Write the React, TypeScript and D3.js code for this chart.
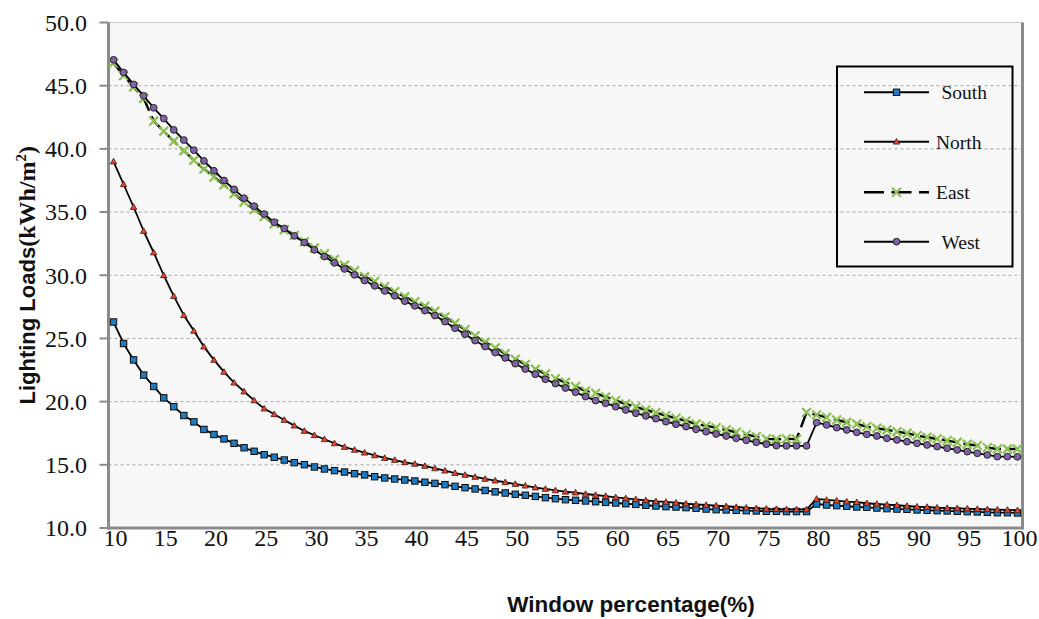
import React from "react";
import * as d3 from "d3";

const categories: number[] = d3.range(10, 101);
const xTickLabels: number[] = [10, 15, 20, 25, 30, 35, 40, 45, 50, 55, 60, 65, 70, 75, 80, 85, 90, 95, 100];
const yTicks: number[] = [10, 15, 20, 25, 30, 35, 40, 45, 50];

const south: number[] = [
  26.3, 24.6, 23.3, 22.1, 21.2, 20.3, 19.6, 18.9, 18.4, 17.8,
  17.4, 17.05, 16.7, 16.35, 16.07, 15.8, 15.6, 15.38, 15.17, 15.01,
  14.83, 14.67, 14.54, 14.43, 14.3, 14.2, 14.06, 13.96, 13.88, 13.8,
  13.72, 13.62, 13.53, 13.43, 13.3, 13.19, 13.09, 12.97, 12.86, 12.77,
  12.67, 12.59, 12.5, 12.4, 12.32, 12.24, 12.19, 12.14, 12.08, 12.03,
  11.98, 11.92, 11.87, 11.8, 11.74, 11.69, 11.66, 11.61, 11.56, 11.5,
  11.45, 11.43, 11.4, 11.37, 11.35, 11.32, 11.32, 11.3, 11.3, 11.3,
  11.9, 11.82, 11.77, 11.72, 11.66, 11.64, 11.58, 11.53, 11.5, 11.48,
  11.43, 11.4, 11.37, 11.35, 11.32, 11.29, 11.27, 11.24, 11.21, 11.21,
  11.19,
];

const north: number[] = [
  39.0, 37.2, 35.4, 33.5, 31.8, 30.0, 28.35, 26.84, 25.6, 24.35,
  23.3, 22.35, 21.5, 20.8, 20.1, 19.45, 19.0, 18.55, 18.1, 17.68,
  17.34, 17.02, 16.7, 16.41, 16.18, 15.96, 15.75, 15.54, 15.38, 15.2,
  15.07, 14.91, 14.72, 14.54, 14.35, 14.2, 14.04, 13.88, 13.75, 13.62,
  13.48, 13.35, 13.2, 13.09, 12.98, 12.87, 12.8, 12.69, 12.61, 12.53,
  12.43, 12.35, 12.27, 12.19, 12.11, 12.06, 12.0, 11.92, 11.87, 11.82,
  11.77, 11.72, 11.66, 11.61, 11.56, 11.52, 11.5, 11.48, 11.47, 11.47,
  12.3, 12.22, 12.17, 12.09, 12.04, 11.96, 11.9, 11.85, 11.8, 11.74,
  11.69, 11.66, 11.61, 11.58, 11.56, 11.53, 11.5, 11.48, 11.45, 11.43,
  11.4,
];

const east: number[] = [
  46.8, 45.8, 44.9, 44.0, 42.2, 41.4, 40.6, 39.85, 39.1, 38.4,
  37.77, 37.16, 36.45, 35.8, 35.2, 34.65, 34.07, 33.6, 33.15, 32.65,
  32.15, 31.7, 31.25, 30.8, 30.35, 29.9, 29.5, 29.1, 28.7, 28.3,
  27.9, 27.55, 27.15, 26.7, 26.2, 25.7, 25.2, 24.7, 24.25, 23.8,
  23.35, 22.95, 22.56, 22.19, 21.82, 21.53, 21.19, 20.85, 20.66, 20.37,
  20.08, 19.82, 19.58, 19.34, 19.13, 18.89, 18.69, 18.47, 18.23, 18.08,
  17.94, 17.76, 17.58, 17.39, 17.23, 17.05, 17.02, 17.05, 17.03, 19.15,
  18.95, 18.76, 18.55, 18.37, 18.23, 18.02, 17.89, 17.76, 17.62, 17.5,
  17.31, 17.18, 17.05, 16.91, 16.78, 16.63, 16.52, 16.36, 16.25, 16.25,
  16.25,
];

const west: number[] = [
  47.05, 46.05, 45.1, 44.2, 43.25, 42.4, 41.5, 40.7, 39.9, 39.05,
  38.27, 37.5, 36.8, 36.1, 35.47, 34.84, 34.2, 33.7, 33.12, 32.59,
  32.01, 31.48, 30.98, 30.5, 30.03, 29.58, 29.16, 28.76, 28.37, 27.95,
  27.58, 27.2, 26.81, 26.33, 25.81, 25.34, 24.83, 24.36, 23.88, 23.46,
  23.0, 22.58, 22.17, 21.77, 21.43, 21.08, 20.74, 20.4, 20.08, 19.87,
  19.6, 19.34, 19.08, 18.87, 18.65, 18.41, 18.21, 18.02, 17.81, 17.62,
  17.44, 17.28, 17.1, 16.94, 16.78, 16.63, 16.52, 16.5, 16.5, 16.5,
  18.34, 18.16, 17.94, 17.76, 17.57, 17.41, 17.28, 17.1, 16.97, 16.83,
  16.7, 16.57, 16.44, 16.31, 16.18, 16.04, 15.91, 15.78, 15.65, 15.65,
  15.63,
];

type SeriesKey = "south" | "north" | "east" | "west";
const seriesNames: string[] = ["South", "North", "East", "West"];
const seriesValues: number[][] = [south, north, east, west];
const seriesKeys: SeriesKey[] = ["south", "north", "east", "west"];

const W = 1039;
const H = 619;
const plotLeft = 108.5;
const plotRight = 1022.5;
const plotTop = 22.5;
const plotBottom = 528;

function Marker({ kind, x, y }: { kind: SeriesKey; x: number; y: number }) {
  if (kind === "south") {
    return <rect x={x - 3.2} y={y - 3.2} width={6.4} height={6.4} fill="#1f7bc1" stroke="#0d0d0d" strokeWidth={1} />;
  }
  if (kind === "north") {
    const s = 3.2;
    return (
      <path
        d={`M${x},${y - s}L${x + s},${y + s * 0.75}L${x - s},${y + s * 0.75}Z`}
        fill="#e8462e"
        stroke="#3a1a14"
        strokeWidth={0.8}
      />
    );
  }
  if (kind === "east") {
    const s = 4.4;
    return (
      <path
        d={`M${x - s},${y - s}L${x + s},${y + s}M${x - s},${y + s}L${x + s},${y - s}`}
        stroke="#8cc152"
        strokeWidth={2.3}
        fill="none"
      />
    );
  }
  return <circle cx={x} cy={y} r={3.4} fill="#8062a6" stroke="#1a1a1a" strokeWidth={0.9} />;
}

export default function App() {
  const x = d3.scaleBand<number>().domain(categories).range([plotLeft, plotRight]).padding(0);
  const cx = (c: number) => (x(c) as number) + x.bandwidth() / 2;
  const y = d3.scaleLinear().domain([10, 50]).range([plotBottom, plotTop]);

  const line = d3
    .line<number>()
    .x((_, i) => cx(categories[i]))
    .y((v) => y(v));

  const legendRows = [92.3, 141.7, 192.3, 241.7];
  const legendTextX = [941.5, 936, 936, 941.5];

  return (
    <svg
      width={W}
      height={H}
      style={{ position: "absolute", left: 0, top: 0, display: "block", background: "#ffffff" }}
    >
      <rect x={0} y={0} width={W} height={H} fill="#ffffff" />
      <rect x={plotLeft} y={plotTop} width={plotRight - plotLeft} height={plotBottom - plotTop} fill="#f7f7f7" />
      {yTicks
        .filter((t) => t > 10 && t < 50)
        .map((t) => (
          <line
            key={t}
            x1={plotLeft}
            x2={plotRight}
            y1={y(t)}
            y2={y(t)}
            stroke="#a6a6a6"
            strokeWidth={1}
            strokeDasharray="3,3"
          />
        ))}
      {/* frame */}
      <line x1={plotLeft} x2={plotRight} y1={plotTop} y2={plotTop} stroke="#c8c8c8" strokeWidth={1} />
      <line x1={plotRight} x2={plotRight} y1={plotTop} y2={plotBottom} stroke="#8a8a8a" strokeWidth={3} />
      <line x1={plotLeft} x2={plotLeft} y1={plotTop} y2={plotBottom + 1.5} stroke="#8a8a8a" strokeWidth={3} />
      <line x1={plotLeft - 1.5} x2={plotRight + 1.5} y1={plotBottom} y2={plotBottom} stroke="#8a8a8a" strokeWidth={3} />
      {yTicks.map((t) => (
        <line key={"yt" + t} x1={plotLeft - 9} x2={plotLeft} y1={y(t)} y2={y(t)} stroke="#8a8a8a" strokeWidth={2} />
      ))}
      {yTicks.map((t) => (
        <text
          key={"yl" + t}
          x={87}
          y={y(t)}
          dy="0.35em"
          textAnchor="end"
          fontFamily="'Liberation Serif', 'Times New Roman', serif"
          fontSize={24}
          fill="#111"
        >
          {t.toFixed(1)}
        </text>
      ))}
      {xTickLabels.map((c) => (
        <text
          key={"xl" + c}
          x={cx(c) + 2}
          y={546}
          textAnchor="middle"
          fontFamily="'Liberation Serif', 'Times New Roman', serif"
          fontSize={24}
          fill="#111"
        >
          {c}
        </text>
      ))}
      {/* axis titles */}
      <text
        x={631}
        y={612}
        textAnchor="middle"
        fontFamily="'Liberation Sans', Arial, sans-serif"
        fontWeight="bold"
        fontSize={22.5}
        fill="#111"
      >
        Window percentage(%)
      </text>
      <text
        transform={`translate(35, ${(plotTop + plotBottom) / 2}) rotate(-90)`}
        textAnchor="middle"
        fontWeight="bold"
        fill="#111"
      >
        <tspan fontFamily="'Liberation Sans', Arial, sans-serif" fontSize={22}>
          Lighting Loads
        </tspan>
        <tspan fontFamily="'Liberation Serif', 'Times New Roman', serif" fontSize={24}>
          (kWh/m
        </tspan>
        <tspan fontFamily="'Liberation Serif', 'Times New Roman', serif" fontSize={15} dy={-9}>
          2
        </tspan>
        <tspan fontFamily="'Liberation Serif', 'Times New Roman', serif" fontSize={24} dy={9}>
          )
        </tspan>
      </text>
      {/* series */}
      {seriesValues.map((vals, si) => (
        <g key={seriesKeys[si]}>
          <path
            d={line(vals) || ""}
            fill="none"
            stroke="#000"
            strokeWidth={seriesKeys[si] === "east" ? 2.4 : 1.8}
            strokeDasharray={seriesKeys[si] === "east" ? "16,6" : undefined}
            strokeLinejoin="round"
          />
          {vals.map((v, i) => (
            <Marker key={i} kind={seriesKeys[si]} x={cx(categories[i])} y={y(v)} />
          ))}
        </g>
      ))}
      {/* legend */}
      <rect x={837} y={66.5} width={175.5} height={200} fill="none" stroke="#000" strokeWidth={2} />
      {seriesKeys.map((k, i) => (
        <g key={"lg" + k}>
          <line
            x1={864}
            x2={929}
            y1={legendRows[i]}
            y2={legendRows[i]}
            stroke="#000"
            strokeWidth={k === "east" ? 2.6 : 2}
            strokeDasharray={k === "east" ? "20,7.5" : undefined}
          />
          <Marker kind={k} x={896.5} y={legendRows[i]} />
          <text
            x={legendTextX[i]}
            y={legendRows[i]}
            dy="0.35em"
            fontFamily="'Liberation Serif', 'Times New Roman', serif"
            fontSize={19.5}
            fill="#111"
          >
            {seriesNames[i]}
          </text>
        </g>
      ))}
    </svg>
  );
}
